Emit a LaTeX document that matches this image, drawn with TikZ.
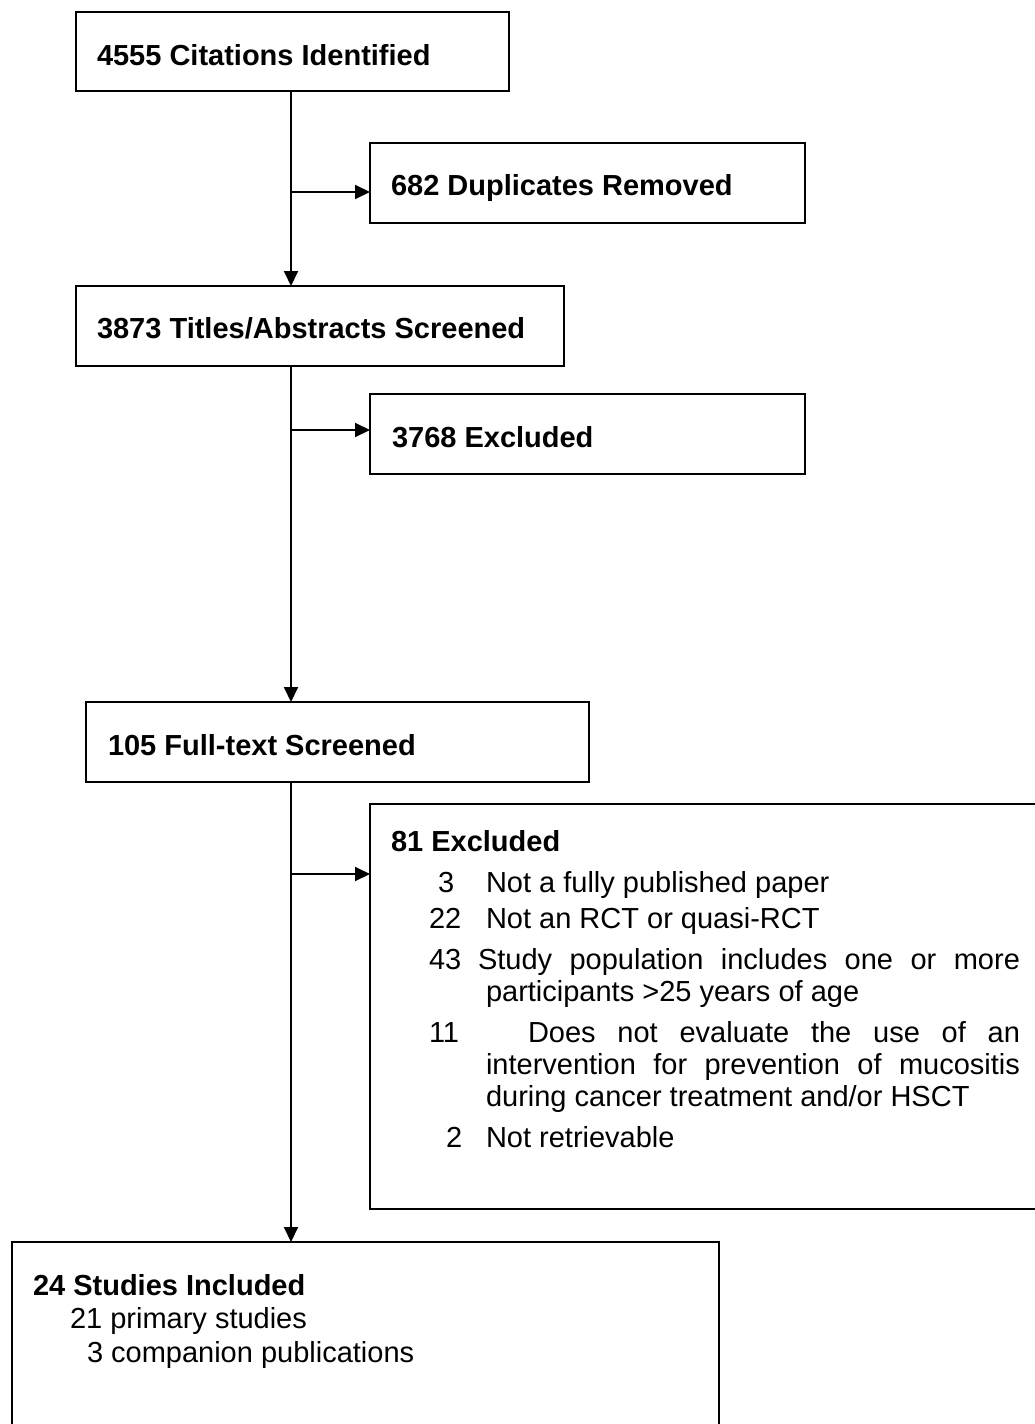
\documentclass[tikz,border=0pt]{standalone}
\usepackage{fontspec}
\setmainfont{Liberation Sans}
\usetikzlibrary{arrows.meta}

\tikzset{
  box/.style={draw=black, line width=2pt, inner sep=0pt, outer sep=0pt, anchor=north west},
  txt/.style={anchor=base west, inner sep=0pt, outer sep=0pt, font=\fontsize{29pt}{32pt}\selectfont},
  head/.style={txt, font=\fontsize{29pt}{32pt}\selectfont\bfseries},
  item/.style={txt, text width=534pt, align=justify},
  arr/.style={draw=black, line width=2pt, -{Triangle[length=15pt,width=14pt]}}
}

\begin{document}
\begin{tikzpicture}[x=1pt, y=-1pt]
  \useasboundingbox (0,0) rectangle (1034,1424);

  \node[box, minimum width=433pt, minimum height=79pt] (cite) at (76,12) {};
  \node[box, minimum width=435pt, minimum height=80pt] (dup) at (370,143) {};
  \node[box, minimum width=488pt, minimum height=80pt] (titles) at (76,286) {};
  \node[box, minimum width=435pt, minimum height=80pt] (exclone) at (370,394) {};
  \node[box, minimum width=503pt, minimum height=80pt] (full) at (86,702) {};
  \node[box, minimum width=670pt, minimum height=405pt] (excltwo) at (370,804) {};
  \node[box, minimum width=707pt, minimum height=190pt] (incl) at (12,1242) {};

  \coordinate (trunk) at (291,0);
  \coordinate (forkone) at (291,192);
  \coordinate (forktwo) at (291,430);
  \coordinate (forkthree) at (291,874);

  \draw[arr] (cite.south -| trunk) -- (titles.north -| trunk);
  \draw[arr] (titles.south -| trunk) -- (full.north -| trunk);
  \draw[arr] (full.south -| trunk) -- (incl.north -| trunk);
  \draw[arr] (forkone) -- (forkone -| dup.west);
  \draw[arr] (forktwo) -- (forktwo -| exclone.west);
  \draw[arr] (forkthree) -- (forkthree -| excltwo.west);

  \node[head] (citetext) at (97,65) {4555 Citations Identified};
  \node[head] (duptext) at (391,195) {682 Duplicates Removed};
  \node[head] (titlestext) at (97,338) {3873 Titles/Abstracts Screened};
  \node[head] (exclonetext) at (392,447) {3768 Excluded};
  \node[head] (fulltext) at (108,755) {105 Full-text Screened};

  \node[head] (excltwotext) at (391,851) {81 Excluded};
  \node[txt] (numa) at (438,892) {3};
  \node[txt] (reasona) at (486,892) {Not a fully published paper};
  \node[txt] (numb) at (429,928) {22};
  \node[txt] (reasonb) at (486,928) {Not an RCT or quasi-RCT};
  \node[txt] (numc) at (429,969) {43};
  \node[item] (reasonc) at (486,969) {\hspace*{-8pt}Study population includes one or more\linebreak participants >25 years of age};
  \node[txt] (numd) at (429,1042) {11};
  \node[item] (reasond) at (486,1042) {\hspace*{42pt}Does not evaluate the use of an\linebreak intervention for prevention of mucositis\linebreak during cancer treatment and/or HSCT};
  \node[txt] (nume) at (446,1147) {2};
  \node[txt] (reasone) at (486,1147) {Not retrievable};

  \node[head] (incltext) at (33,1295) {24 Studies Included};
  \node[txt] (primary) at (70,1328) {21 primary studies};
  \node[txt] (companion) at (87,1362) {3 companion publications};
\end{tikzpicture}
\end{document}
